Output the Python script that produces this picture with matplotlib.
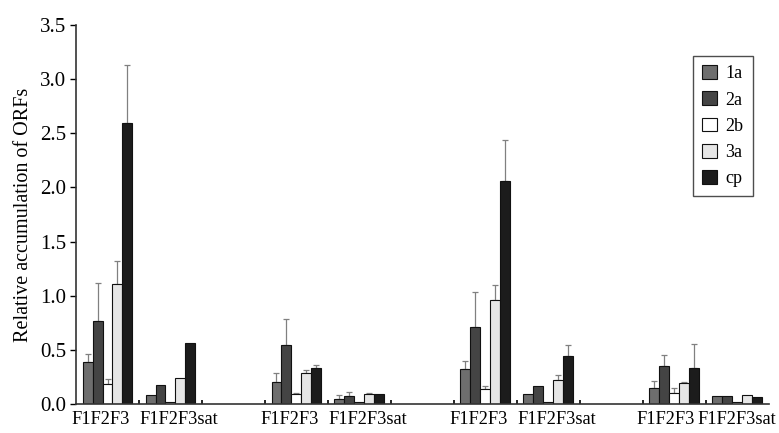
import numpy as np
import matplotlib
matplotlib.use("Agg")
import matplotlib.pyplot as plt

plt.rcParams['font.family'] = ['Liberation Serif', 'DejaVu Serif']

categories = ["F1F2F3", "F1F2F3sat", "", "F1F2F3", "F1F2F3sat", "",
              "F1F2F3", "F1F2F3sat", "", "F1F2F3", "F1F2F3sat"]
series = ["1a", "2a", "2b", "3a", "cp"]

# mean values per series (NaN = empty slot)
nan = np.nan
v_1a = [0.39, 0.08, nan, 0.20, 0.05, nan, 0.32, 0.09, nan, 0.15, 0.07]
v_2a = [0.77, 0.18, nan, 0.545, 0.07, nan, 0.71, 0.17, nan, 0.35, 0.07]
v_2b = [0.185, 0.02, nan, 0.09, 0.02, nan, 0.135, 0.02, nan, 0.10, 0.02]
v_3a = [1.11, 0.24, nan, 0.29, 0.09, nan, 0.96, 0.22, nan, 0.19, 0.08]
v_cp = [2.60, 0.56, nan, 0.335, 0.09, nan, 2.06, 0.44, nan, 0.33, 0.06]

# upper error bars
e_1a = [0.07, 0.0, nan, 0.09, 0.03, nan, 0.08, 0.0, nan, 0.06, 0.0]
e_2a = [0.35, 0.0, nan, 0.24, 0.04, nan, 0.32, 0.0, nan, 0.10, 0.0]
e_2b = [0.045, 0.0, nan, 0.01, 0.0, nan, 0.035, 0.0, nan, 0.05, 0.0]
e_3a = [0.21, 0.0, nan, 0.02, 0.01, nan, 0.14, 0.05, nan, 0.01, 0.0]
e_cp = [0.53, 0.0, nan, 0.025, 0.0, nan, 0.38, 0.105, nan, 0.22, 0.0]

values = [v_1a, v_2a, v_2b, v_3a, v_cp]
errors = [e_1a, e_2a, e_2b, e_3a, e_cp]
colors = ["#6e6e6e", "#444444", "#ffffff", "#e6e6e6", "#1c1c1c"]

fig = plt.figure(figsize=(7.79, 4.33), dpi=100)
ax = fig.add_axes([0.0976, 0.067, 0.889, 0.875])

x = np.arange(1, len(categories) + 1)
w = 0.158
for i, (vals, errs, c, name) in enumerate(zip(values, errors, colors, series)):
    pos = x + (i - 2) * w
    vals = np.array(vals, dtype=float)
    errs = np.array(errs, dtype=float)
    mask = ~np.isnan(vals)
    ax.bar(pos[mask], vals[mask], width=w, color=c, edgecolor="#111111",
           linewidth=0.8, label=name, zorder=2)
    emask = mask & (errs > 0)
    ax.errorbar(pos[emask], vals[emask], yerr=[np.zeros(emask.sum()), errs[emask]],
                fmt="none", ecolor="#808080", elinewidth=0.9, capsize=2.5,
                capthick=0.9, zorder=1)

ax.set_xlim(0.5, len(categories) + 0.5)
ax.set_ylim(0, 3.5)
ax.set_yticks(np.arange(0, 3.51, 0.5))
ax.set_yticklabels([f"{t:.1f}" for t in np.arange(0, 3.51, 0.5)], fontsize=15)

# category labels nudged apart so neighbouring names do not collide
shift = np.array([-0.11 if c == "F1F2F3" else 0.13 if c else 0.0 for c in categories])
shift[-1] = 0.0
shift[-2] = -0.14
ax.set_xticks(x + shift)
ax.set_xticklabels(categories, fontsize=13.2)
ax.tick_params(axis="x", length=0, pad=5)
ax.set_xticks(np.arange(1.5, len(categories), 1.0), minor=True)
ax.tick_params(axis="x", which="minor", direction="in", length=3, width=1.2)
ax.tick_params(axis="y", direction="out", length=4, width=1, pad=3)
ax.set_ylabel("Relative accumulation of ORFs", fontsize=14.5, labelpad=5)

for s in ["top", "right"]:
    ax.spines[s].set_visible(False)
for s in ["left", "bottom"]:
    ax.spines[s].set_color("#333333")
    ax.spines[s].set_linewidth(1.2)

leg = ax.legend(loc="upper right", bbox_to_anchor=(0.977, 0.918), fontsize=13,
                frameon=True, fancybox=False, edgecolor="#222222",
                handlelength=0.8, handleheight=0.8, handletextpad=0.5,
                labelspacing=0.5, borderpad=0.5, borderaxespad=0)
leg.get_frame().set_linewidth(1.0)

fig.savefig("out.png", dpi=100)
